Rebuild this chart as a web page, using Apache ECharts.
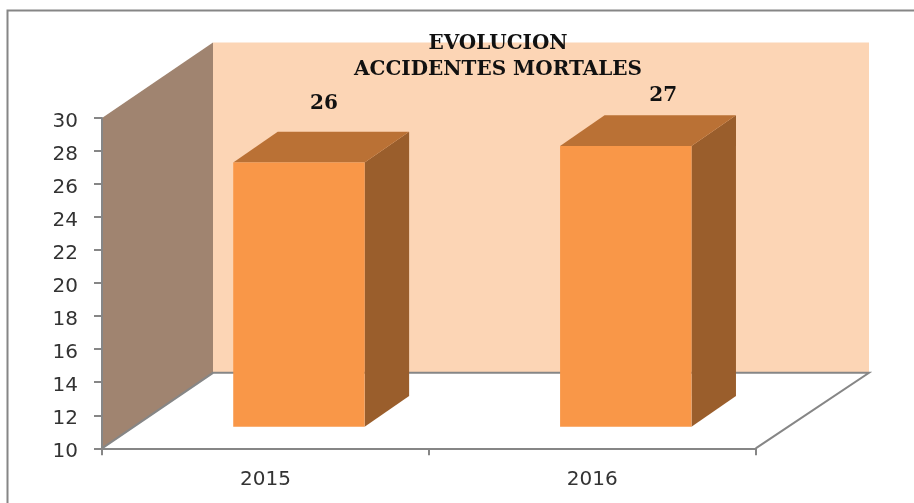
<!DOCTYPE html>
<html>
<head>
<meta charset="utf-8">
<style>html,body{margin:0;padding:0;background:#fff}#c{width:914px;height:503px}</style>
<script src="https://cdn.jsdelivr.net/npm/echarts@6/dist/echarts.min.js"></script>
</head>
<body>
<div id="c"></div>
<script>
const categories = ["2015", "2016"];
const values = [26, 27];
const yMin = 10, yMax = 30, yStep = 2;
const chartTitle = "EVOLUCION\nACCIDENTES MORTALES";

// 3D projection styling (separate from data)
const wallDepth = { x: 111, y: -75.5 };
const backWallExtra = 2.3;
const barFrontOffset = { x: 33.5, y: -21.6 };
const barDepth = { x: 44.5, y: -30.7 };
const labelShift = [{ x: 25, y: -59 }, { x: 37.5, y: -50.5 }];
const grey = "#868686";

const chart = echarts.init(document.getElementById("c"), null, { renderer: "canvas" });

function renderWalls(params, api) {
  const cs = params.coordSys;
  const L = cs.x, R = cs.x + cs.width, T = cs.y, B = cs.y + cs.height;
  const d = wallDepth;
  const RB = R + d.x + backWallExtra;
  return {
    type: "group",
    children: [
      { type: "polygon", shape: { points: [[L + d.x, T + d.y], [RB, T + d.y], [RB, B + d.y], [L + d.x, B + d.y]] }, style: { fill: "#FCD5B5" } },
      { type: "polygon", shape: { points: [[L, T], [L + d.x, T + d.y], [L + d.x, B + d.y], [L, B]] }, style: { fill: "#A08470" } },
      { type: "polyline", shape: { points: [[L, B], [L + d.x, B + d.y], [RB, B + d.y], [R, B]] }, style: { fill: "none", stroke: grey, lineWidth: 2 } }
    ]
  };
}

function renderBar(params, api) {
  const i = api.value(0);
  const top = api.coord([i, api.value(1)]);
  const base = api.coord([i, yMin]);
  const w = api.size([1, 0])[0] * 0.402;
  const o = barFrontOffset, d = barDepth;
  const x0 = top[0] - w / 2 + o.x, x1 = x0 + w;
  const yT = top[1] + o.y, yB = base[1] + o.y;
  const s = labelShift[params.dataIndex];
  return {
    type: "group",
    children: [
      { type: "polygon", shape: { points: [[x1, yT], [x1 + d.x, yT + d.y], [x1 + d.x, yB + d.y], [x1, yB]] }, style: { fill: "#9A5E2C" } },
      { type: "polygon", shape: { points: [[x0, yT], [x0 + d.x, yT + d.y], [x1 + d.x, yT + d.y], [x1, yT]] }, style: { fill: "#BA7135" } },
      { type: "rect", shape: { x: x0, y: yT, width: w, height: yB - yT }, style: { fill: "#F99748" } },
      { type: "text", style: { text: String(api.value(1)), x: (x0 + x1) / 2 + s.x, y: yT + s.y, align: "center", verticalAlign: "middle", font: 'bold 20px "DejaVu Serif"', fill: "#111" } }
    ]
  };
}

chart.setOption({
  animation: false,
  backgroundColor: "#fff",
  title: {
    text: chartTitle,
    left: 498, top: 30, padding: 0, textAlign: "center",
    textStyle: { fontFamily: "DejaVu Serif", fontWeight: "bold", fontSize: 20, lineHeight: 26.6, color: "#111" }
  },
  graphic: [{
    type: "polyline", z: 0, silent: true,
    shape: { points: [[7.5, 503], [7.5, 10.5], [914, 10.5]] },
    style: { fill: "none", stroke: grey, lineWidth: 2 }
  }],
  grid: { left: 102, top: 118, width: 653.7, height: 330.3, containLabel: false },
  xAxis: {
    type: "category", data: categories, z: 5,
    axisLine: { show: true, lineStyle: { color: grey, width: 2 } },
    axisTick: { show: true, alignWithLabel: false, length: 7, lineStyle: { color: grey, width: 2 } },
    axisLabel: { margin: 21, fontFamily: "DejaVu Sans", fontSize: 20, color: "#333" },
    splitLine: { show: false }
  },
  yAxis: {
    type: "value", min: yMin, max: yMax, interval: yStep, z: 5,
    axisLine: { show: true, lineStyle: { color: grey, width: 2 } },
    axisTick: { show: true, length: 8, lineStyle: { color: grey, width: 2 } },
    axisLabel: { margin: 24, fontFamily: "DejaVu Sans", fontSize: 20, color: "#333", verticalAlign: "top", lineHeight: 7.5 },
    splitLine: { show: false }
  },
  series: [
    { type: "custom", name: "walls", data: [[0, yMin]], renderItem: renderWalls, silent: true, z: 1, clip: false },
    { type: "custom", name: "Accidentes mortales", data: values.map((v, i) => [i, v]), encode: { x: 0, y: 1 }, renderItem: renderBar, z: 2, clip: false }
  ]
});
</script>
</body>
</html>
